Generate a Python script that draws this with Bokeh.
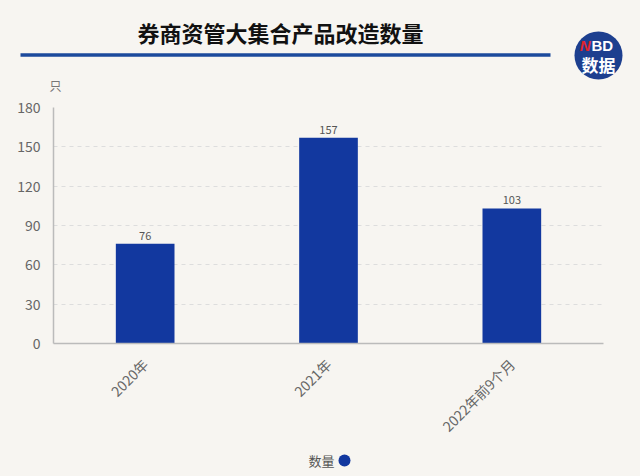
from bokeh.plotting import figure
from bokeh.layouts import column
from bokeh.models import Range1d, FixedTicker, ColumnDataSource
from bokeh.core.properties import value
from bokeh.embed import file_html
from bokeh.resources import INLINE
import math

# ---- data ----
categories = ["2020年", "2021年", "2022年前9个月"]
counts = [76, 157, 103]
y_ticks = [0, 30, 60, 90, 120, 150, 180]
title_text = "券商资管大集合产品改造数量"
unit_text = "只"
legend_text = "数量"

BG = "#f7f5f1"
BAR = "#12389f"
CJK = "Noto Sans CJK SC"
W = 640

def base(h, xr, yr):
    f = figure(width=W, height=h, x_range=xr, y_range=yr, output_backend="svg",
               toolbar_location=None, min_border=0, background_fill_color=BG,
               border_fill_color=BG, outline_line_color=None, frame_align=False)
    f.axis.visible = False
    f.grid.visible = False
    return f

# ---- header ----
HH = 93
head = base(HH, Range1d(0, W), Range1d(HH, 0))
head.text(x=[280], y=[31], text=[title_text], text_font=value(CJK), text_font_style="bold",
          text_font_size="22px", text_color="#111111", text_align="center", text_baseline="middle")
head.segment(x0=[20], y0=[54.5], x1=[550], y1=[54.5], line_color="#1c4a9c", line_width=3.5)
head.circle(x=[598], y=[55], radius=24, fill_color="#1d3f8f", line_color=None)
head.text(x=[590], y=[45], text=["N"], text_font=value("Liberation Sans"), text_font_style="bold italic",
          text_font_size="15px", text_color="#e3242b", text_align="right", text_baseline="middle")
head.text(x=[591], y=[45], text=["BD"], text_font=value("Liberation Sans"), text_font_style="bold",
          text_font_size="15px", text_color="white", text_align="left", text_baseline="middle")
head.text(x=[598], y=[64], text=["数据"], text_font=value(CJK), text_font_style="bold",
          text_font_size="17px", text_color="white", text_align="center", text_baseline="middle")
head.text(x=[55], y=[85], text=[unit_text], text_font=value(CJK), text_font_size="12px",
          text_color="#777777", text_align="center", text_baseline="middle")

# ---- chart ----
CH = 357
xs = [i + 0.5 for i in range(len(categories))]
src = ColumnDataSource(dict(x=xs, top=counts, lab=[str(c) for c in counts]))
p = figure(width=W, height=CH, x_range=Range1d(0, 3), y_range=Range1d(0, 180),
           output_backend="svg", toolbar_location=None, frame_align=False,
           min_border_left=53, min_border_right=37, min_border_top=14, min_border_bottom=107,
           background_fill_color=BG, border_fill_color=BG, outline_line_color=None)
p.vbar(x="x", top="top", width=0.32, source=src, fill_color=BAR, line_color=None)
p.text(x="x", y="top", text="lab", source=src, y_offset=-4, text_font=value(CJK),
       text_font_size="11px", text_color="#555555", text_align="center", text_baseline="bottom")

p.xaxis.ticker = FixedTicker(ticks=xs)
p.xaxis.major_label_overrides = {x: c for x, c in zip(xs, categories)}
p.xaxis.major_label_orientation = math.pi / 4
p.yaxis.ticker = FixedTicker(ticks=y_ticks)
for ax in (p.xaxis, p.yaxis):
    ax.axis_line_color = "#bbbbbb"
    ax.axis_line_width = 1.5
    ax.major_tick_line_color = None
    ax.minor_tick_line_color = None
    ax.major_label_text_font = CJK
    ax.major_label_text_color = "#666666"
p.yaxis.major_label_text_font_size = "14px"
p.xaxis.major_label_text_font_size = "14px"
p.yaxis.major_label_standoff = 7
p.xaxis.major_label_standoff = 12
p.xgrid.visible = False
p.ygrid.grid_line_color = "#dddddd"
p.ygrid.grid_line_dash = "4 4"

# ---- footer legend ----
FH = 26
foot = base(FH, Range1d(0, W), Range1d(FH, 0))
foot.text(x=[334], y=[10], text=[legend_text], text_font=value(CJK), text_font_size="13px",
          text_color="#555555", text_align="right", text_baseline="middle")
foot.circle(x=[344], y=[10], radius=6, fill_color=BAR, line_color=None)

layout = column(head, p, foot, spacing=0)
layout.styles = {"background-color": BG}
html = file_html(layout, INLINE)
html = html.replace("<body>", '<body style="margin:0;overflow:hidden;background:%s">' % BG, 1)
open("out.html", "w").write(html)
